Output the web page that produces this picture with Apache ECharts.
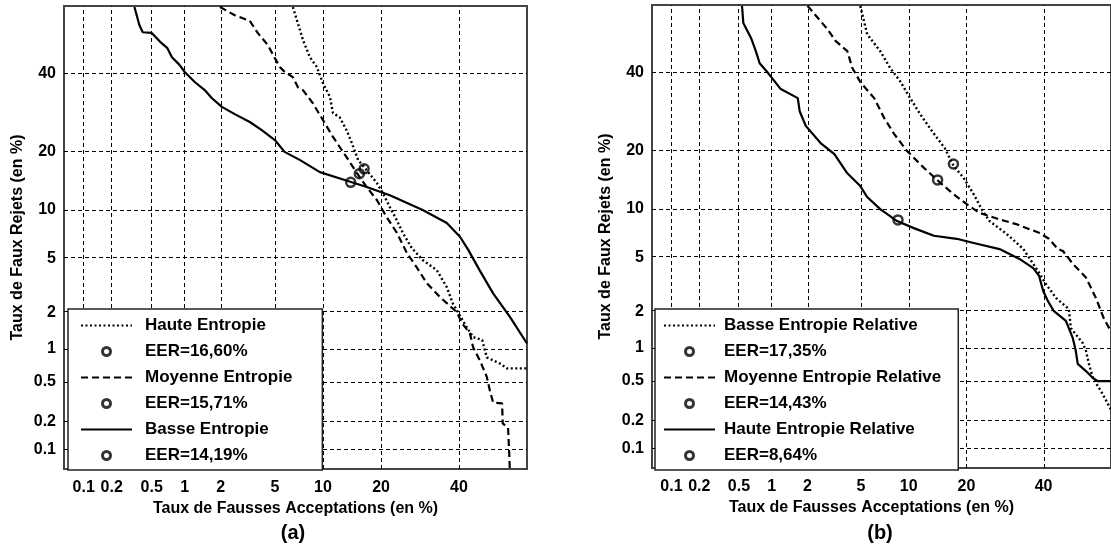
<!DOCTYPE html>
<html>
<head>
<meta charset="utf-8">
<script src="https://cdn.jsdelivr.net/npm/echarts@6/dist/echarts.min.js"></script>
<style>
  html, body { margin: 0; padding: 0; background: #fff; }
  #chart { width: 1111px; height: 550px; }
</style>
</head>
<body>
<div id="chart"></div>
<script>
// ticks (en %)
const tickPct = [0.1, 0.2, 0.5, 1, 2, 5, 10, 20, 40];
const tickLabels = ['0.1', '0.2', '0.5', '1', '2', '5', '10', '20', '40'];

// (a) courbes DET : [FA %, FR %]
const hauteA = [[6.57,60],[6.96,56.2],[7.6,50.2],[8.37,45.0],[9.21,42.1],[10.0,37.4],[10.96,33.5],[11.4,29.2],[12.4,28.1],[13.5,24.9],[14.4,21.9],[15.5,18.3],[16.75,16.75],[19.1,14.1],[20.4,12.4],[21.9,10.4],[23.5,8.7],[24.9,7.3],[27.1,5.83],[29.9,4.85],[33.7,4.13],[36.5,3.11],[38.2,2.35],[39.7,2.0],[42.3,1.51],[44.2,1.25],[46.9,1.18],[48.3,0.83],[52.3,0.73],[54.4,0.66],[60.3,0.66]];
const moyenneA = [[1.97,60],[2.57,57.6],[3.33,55.9],[3.8,52.3],[4.48,48.6],[5.0,44.7],[5.4,42.1],[5.82,40.6],[6.57,39.1],[7.07,36.2],[7.6,35.4],[8.72,31.8],[10.0,27.4],[11.4,23.3],[13.5,18.9],[15.3,15.8],[17.1,13.4],[19.1,11.4],[21.2,9.1],[23.5,7.3],[25.9,5.4],[28.4,4.3],[31.0,3.33],[34.6,2.62],[39.4,2.0],[40.9,1.63],[43.2,1.35],[44.2,1.02],[46.2,0.78],[48.3,0.55],[49.2,0.41],[50.2,0.31],[52.9,0.305],[53.1,0.19],[54.7,0.17],[55.0,0.098],[55.3,0.05]];
const basseA = [[0.34,60],[0.38,54.7],[0.41,52.5],[0.5,52.3],[0.6,49.6],[0.7,47.7],[0.77,45.0],[0.9,42.7],[1.0,40.6],[1.22,37.7],[1.48,35.4],[1.69,33.2],[2.04,30.8],[2.57,28.9],[3.33,26.9],[4.06,24.9],[5.0,22.6],[5.8,20.0],[7.3,18.3],[9.6,16.0],[13.2,14.6],[17.1,13.4],[21.9,12.1],[29.9,10.0],[36.5,8.4],[40.3,6.9],[42.7,5.7],[46.2,4.1],[50.2,2.8],[55.3,1.83],[60.3,1.1]];
const eerA = [16.60, 15.71, 14.19];

// (b)
const basseRelB = [[4.94,60],[5.5,51.6],[6.7,46.5],[7.74,41.5],[8.88,37.7],[10.2,32.9],[11.6,28.7],[13.5,24.4],[15.7,20.6],[17.4,16.95],[19.4,14.8],[21.6,12.1],[23.4,10.0],[25.3,8.5],[29.6,7.1],[34.2,5.66],[38.4,4.0],[40.7,3.23],[43.7,2.54],[47.6,2.08],[48.2,1.46],[51.8,1.09],[52.8,0.93],[53.7,0.71],[54.9,0.525],[57.8,0.37],[60.2,0.26]];
const moyenneRelB = [[2.0,60],[2.08,59.4],[2.28,57.6],[2.87,53.1],[3.29,49.6],[4.01,46.5],[4.35,41.5],[4.94,37.4],[6.12,32.9],[7.09,27.7],[8.18,23.8],[9.77,20.0],[12.2,16.6],[14.6,14.2],[17.4,12.1],[20.0,10.7],[22.9,9.5],[27.8,8.7],[32.2,8.15],[38.7,7.2],[41.6,6.6],[44.3,5.66],[45.8,5.5],[48.8,4.5],[52.8,3.6],[55.8,2.54],[58.1,1.77],[60.2,1.38]];
const hauteRelB = [[0.535,60],[0.55,55.0],[0.65,50.5],[0.72,46.5],[0.78,42.9],[0.93,40.0],[1.2,35.4],[1.67,32.9],[1.73,29.4],[1.94,25.7],[2.54,21.7],[3.23,19.3],[4.01,15.6],[4.94,13.4],[5.5,11.7],[6.7,10.0],[8.53,8.5],[10.7,7.7],[13.8,6.9],[18.0,6.6],[21.6,6.2],[27.8,5.66],[33.1,4.86],[37.0,4.2],[38.7,3.7],[39.9,2.87],[41.3,2.4],[43.1,2.0],[46.7,1.67],[48.8,1.2],[49.7,0.93],[50.3,0.71],[52.8,0.61],[54.9,0.525],[56.4,0.49],[60.2,0.49]];
const eerB = [17.35, 14.43, 8.64];

const namesA = ['Haute Entropie', 'EER=16,60%', 'Moyenne Entropie', 'EER=15,71%', 'Basse Entropie', 'EER=14,19%'];
const namesB = ['Basse Entropie Relative', 'EER=17,35%', 'Moyenne Entropie Relative', 'EER=14,43%', 'Haute Entropie Relative', 'EER=8,64%'];

// quantile de la loi normale (Acklam)
function probit(p) {
  const a = [-3.969683028665376e+01, 2.209460984245205e+02, -2.759285104469687e+02, 1.383577518672690e+02, -3.066479806614716e+01, 2.506628277459239e+00];
  const b = [-5.447609879822406e+01, 1.615858368580409e+02, -1.556989798598866e+02, 6.680131188771972e+01, -1.328068155288572e+01];
  const c = [-7.784894002430293e-03, -3.223964580411365e-01, -2.400758277161838e+00, -2.549732539343734e+00, 4.374664141464968e+00, 2.938163982698783e+00];
  const d = [7.784695709041462e-03, 3.224671290700398e-01, 2.445134137142996e+00, 3.754408661907416e+00];
  const pl = 0.02425;
  let q, r;
  if (p < pl) {
    q = Math.sqrt(-2 * Math.log(p));
    return (((((c[0]*q+c[1])*q+c[2])*q+c[3])*q+c[4])*q+c[5]) / ((((d[0]*q+d[1])*q+d[2])*q+d[3])*q+1);
  }
  if (p <= 1 - pl) {
    q = p - 0.5; r = q * q;
    return (((((a[0]*r+a[1])*r+a[2])*r+a[3])*r+a[4])*r+a[5])*q / (((((b[0]*r+b[1])*r+b[2])*r+b[3])*r+b[4])*r+1);
  }
  q = Math.sqrt(-2 * Math.log(1 - p));
  return -(((((c[0]*q+c[1])*q+c[2])*q+c[3])*q+c[4])*q+c[5]) / ((((d[0]*q+d[1])*q+d[2])*q+d[3])*q+1);
}
const pz = v => probit(v / 100);
const toDet = arr => arr.map(p => [pz(p[0]), pz(p[1])]);

const AX_MIN = pz(0.06);
const AX_MAX = pz(60.3);
const tickZ = tickPct.map(pz);
const FONT = "'Liberation Sans', Arial, sans-serif";

function tickLabel(val) {
  let best = 0;
  tickZ.forEach((z, i) => { if (Math.abs(z - val) < Math.abs(tickZ[best] - val)) best = i; });
  return tickLabels[best];
}

const styles = [
  { width: 2.4, color: '#000', type: [2, 2.5] },  // pointillé
  { width: 2.2, color: '#000', type: [7, 4] },    // tirets
  { width: 2.2, color: '#000', type: 'solid' }
];

function makeAxis(kind, gridIndex, name, namePad) {
  return {
    type: 'value', gridIndex, min: AX_MIN, max: AX_MAX,
    name, nameLocation: 'middle', nameGap: kind === 'x' ? 30 : 38,
    nameTextStyle: { fontFamily: FONT, fontWeight: 'bold', fontSize: 16, color: '#000', padding: namePad || 0 },
    axisLine: { show: false }, axisTick: { show: false }, splitLine: { show: false },
    axisLabel: {
      customValues: tickZ, formatter: tickLabel, margin: kind === 'x' ? 11 : 8,
      fontFamily: FONT, fontWeight: 'bold', fontSize: 16, color: '#000'
    }
  };
}

function gridLines() {
  return {
    silent: true, symbol: ['none', 'none'], animation: false,
    label: { show: false },
    lineStyle: { color: '#000', width: 1, type: [4, 3] },
    data: tickZ.map(z => ({ xAxis: z })).concat(tickZ.map(z => ({ yAxis: z })))
  };
}

function buildSeries(idx, names, curves, eers) {
  const out = [];
  curves.forEach((c, i) => {
    const s = {
      name: names[i * 2], type: 'line', xAxisIndex: idx, yAxisIndex: idx,
      data: toDet(c), symbol: 'none', lineStyle: styles[i], z: 3,
      itemStyle: { color: 'rgba(0,0,0,0)', borderColor: 'rgba(0,0,0,0)', opacity: 0 }
    };
    if (i === 0) s.markLine = gridLines();
    out.push(s);
    out.push({
      name: names[i * 2 + 1], type: 'scatter', xAxisIndex: idx, yAxisIndex: idx,
      data: [[pz(eers[i]), pz(eers[i])]], symbol: 'circle', symbolSize: 9, z: 4,
      itemStyle: { color: 'rgba(0,0,0,0)', borderColor: '#000', borderWidth: 2.5 }
    });
  });
  return out;
}

function makeLegend(left, names, pad, textPad) {
  return {
    orient: 'vertical', left, top: 309, data: names, z: 20,
    itemWidth: 51, itemHeight: 8, itemGap: 9,
    padding: pad, backgroundColor: '#fff', borderColor: '#222', borderWidth: 1.5,
    selectedMode: false,
    itemStyle: { borderWidth: 3 },
    textStyle: { fontFamily: FONT, fontWeight: 'bold', fontSize: 17, color: '#000', padding: [0, 0, 0, textPad] }
  };
}

const chart = echarts.init(document.getElementById('chart'));
chart.setOption({
  animation: false,
  backgroundColor: '#fff',
  grid: [
    { left: 64, top: 6, width: 463, height: 463, show: true, borderColor: '#444', borderWidth: 2 },
    { left: 652, top: 5, width: 463, height: 463, show: true, borderColor: '#444', borderWidth: 2 }
  ],
  xAxis: [
    makeAxis('x', 0, 'Taux de Fausses Acceptations (en %)', [0, 0, 0, 0]),
    makeAxis('x', 1, 'Taux de Fausses Acceptations (en %)', [0, 20, 0, 0])
  ],
  yAxis: [
    makeAxis('y', 0, 'Taux de Faux Rejets (en %)'),
    makeAxis('y', 1, 'Taux de Faux Rejets (en %)')
  ],
  legend: [
    makeLegend(68, namesA, [8, 30, 6, 12], 8),
    makeLegend(655, namesB, [8, 17, 6, 8], 4)
  ],
  graphic: [
    { type: 'text', x: 293, y: 533, style: { text: '(a)', font: "bold 20px " + FONT, fill: '#000', textAlign: 'center', textVerticalAlign: 'middle' } },
    { type: 'text', x: 880, y: 533, style: { text: '(b)', font: "bold 20px " + FONT, fill: '#000', textAlign: 'center', textVerticalAlign: 'middle' } }
  ],
  series: buildSeries(0, namesA, [hauteA, moyenneA, basseA], eerA)
    .concat(buildSeries(1, namesB, [basseRelB, moyenneRelB, hauteRelB], eerB))
});
</script>
</body>
</html>
